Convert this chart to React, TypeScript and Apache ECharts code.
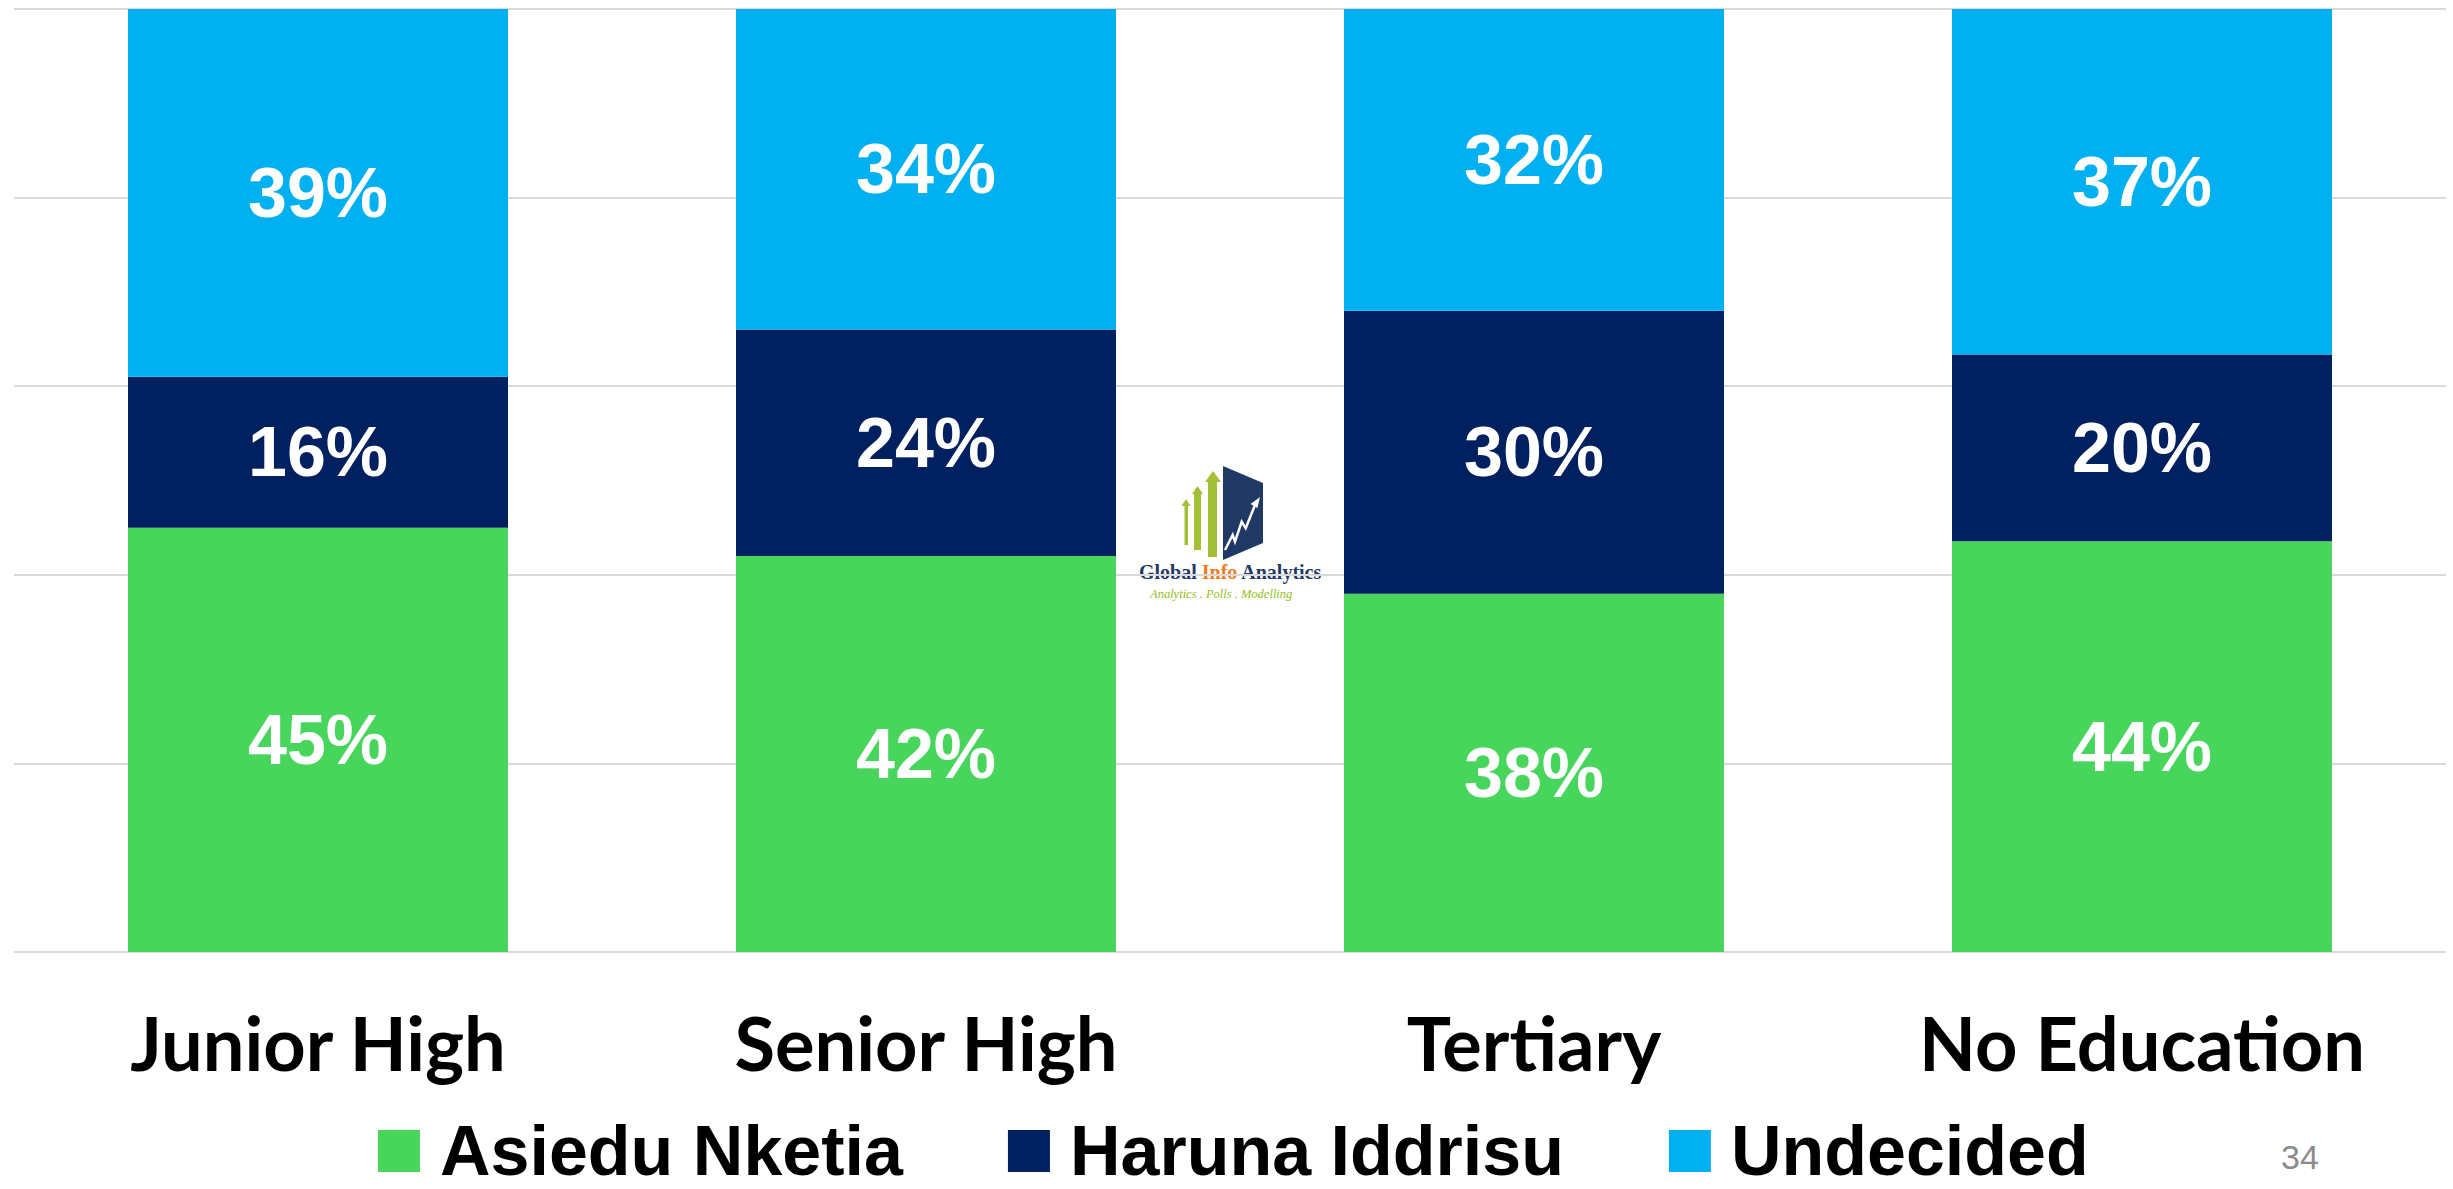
import React, { useEffect, useRef } from "react";
import * as echarts from "echarts";

const categories = ["Junior High", "Senior High", "Tertiary", "No Education"];
const seriesNames = ["Asiedu Nketia", "Haruna Iddrisu", "Undecided"];
const asiedu = [45, 42, 38, 44];
const haruna = [16, 24, 30, 20];
const undecided = [39, 34, 32, 37];
const colors = ["#47d55c", "#002060", "#00b0f0"];

export default function App() {
  const ref = useRef<HTMLDivElement>(null);
  useEffect(() => {
    document.body.style.margin = "0";
    document.body.style.overflow = "hidden";
    const chart = echarts.init(ref.current!, undefined, { renderer: "svg" });
    const raws = [asiedu, haruna, undecided];
    const totals = categories.map((_, i) => raws.reduce((s, r) => s + r[i], 0));
    const series = raws.map((raw, k) => ({
      name: seriesNames[k],
      type: "bar",
      stack: "total",
      barWidth: "62.5%",
      itemStyle: { color: colors[k] },
      data: raw.map((v, i) => ({ value: (v / totals[i]) * 100, raw: v })),
      label: {
        show: true,
        position: "inside",
        formatter: (p: any) => `${p.data.raw}%`,
        color: "#ffffff",
        fontSize: 70,
        fontWeight: "bold",
        fontFamily: "'Liberation Sans', Arial, sans-serif",
      },
      emphasis: { disabled: true },
    }));
    chart.setOption({
      animation: false,
      grid: { left: 14, right: 7, top: 9, bottom: 237, containLabel: false },
      xAxis: {
        type: "category",
        data: categories,
        axisTick: { show: false },
        axisLine: { show: false },
        axisLabel: {
          color: "#000000",
          fontSize: 74,
          lineHeight: 74,
          fontWeight: "bold",
          fontFamily: "Lato, 'Noto Sans', sans-serif",
          margin: 53,
        },
      },
      yAxis: {
        type: "value",
        min: 0,
        max: 100,
        interval: 20,
        axisLabel: { show: false },
        axisLine: { show: false },
        axisTick: { show: false },
        splitLine: { lineStyle: { color: "#d9d9d9", width: 2 } },
      },
      legend: {
        left: 378,
        top: 1114,
        padding: 0,
        icon: "rect",
        itemWidth: 42,
        itemHeight: 42,
        itemGap: 105,
        data: seriesNames,
        textStyle: {
          color: "#000000",
          fontSize: 70,
          lineHeight: 74,
          fontWeight: "bold",
          fontFamily: "'Liberation Sans', Arial, sans-serif",
          padding: [0, 0, 0, 15],
        },
      },
      graphic: [
        {
          type: "text",
          left: 2281,
          top: 1140,
          style: {
            text: "34",
            fontSize: 34,
            fill: "#8c8c8c",
            fontFamily: "'Liberation Sans Narrow', 'Liberation Sans', Arial, sans-serif",
          },
        },
        {
          type: "group",
          children: [
            {
              type: "polygon",
              shape: {
                points: [
                  [1186, 499], [1190.5, 506], [1188, 506], [1188, 545], [1184.5, 545], [1184.5, 506], [1181.5, 506],
                ],
              },
              style: { fill: "#a2c037" },
            },
            {
              type: "polygon",
              shape: {
                points: [
                  [1197.5, 486], [1203, 494], [1201, 494], [1201, 550], [1194, 550], [1194, 494], [1192, 494],
                ],
              },
              style: { fill: "#a2c037" },
            },
            {
              type: "polygon",
              shape: {
                points: [
                  [1213, 471], [1221, 482], [1217, 482], [1217, 557], [1208, 557], [1208, 482], [1205, 482],
                ],
              },
              style: { fill: "#a2c037" },
            },
            {
              type: "polygon",
              shape: { points: [[1223, 466], [1263, 483], [1263, 543], [1223, 560]] },
              style: { fill: "#203864" },
            },
            {
              type: "polyline",
              shape: {
                points: [
                  [1225, 550], [1232.7, 535], [1235, 541.7], [1241.7, 521.7], [1245.7, 528.3], [1255, 505],
                ],
              },
              style: { stroke: "#ffffff", lineWidth: 2.5, fill: "none" },
            },
            {
              type: "polygon",
              shape: { points: [[1260, 497], [1250.6, 503.9], [1257.4, 508.1]] },
              style: { fill: "#ffffff" },
            },
            {
              type: "text",
              x: 1139,
              y: 572,
              style: {
                text: "{n|Global }{o|Info}{n| Analytics}",
                verticalAlign: "middle",
                rich: {
                  n: { fontSize: 20, fontWeight: "bold", fill: "#1f3864", fontFamily: "'Liberation Serif', serif" },
                  o: { fontSize: 20, fontWeight: "bold", fill: "#f07b1a", fontFamily: "'Liberation Serif', serif" },
                },
              },
            },
            {
              type: "text",
              x: 1150,
              y: 594,
              style: {
                text: "Analytics . Polls . Modelling",
                verticalAlign: "middle",
                fontSize: 12.5,
                fontStyle: "italic",
                fill: "#92c020",
                fontFamily: "'Liberation Serif', serif",
              },
            },
          ],
        },
      ],
      series,
    });
    return () => chart.dispose();
  }, []);
  return <div ref={ref} style={{ width: 2453, height: 1189 }} />;
}
